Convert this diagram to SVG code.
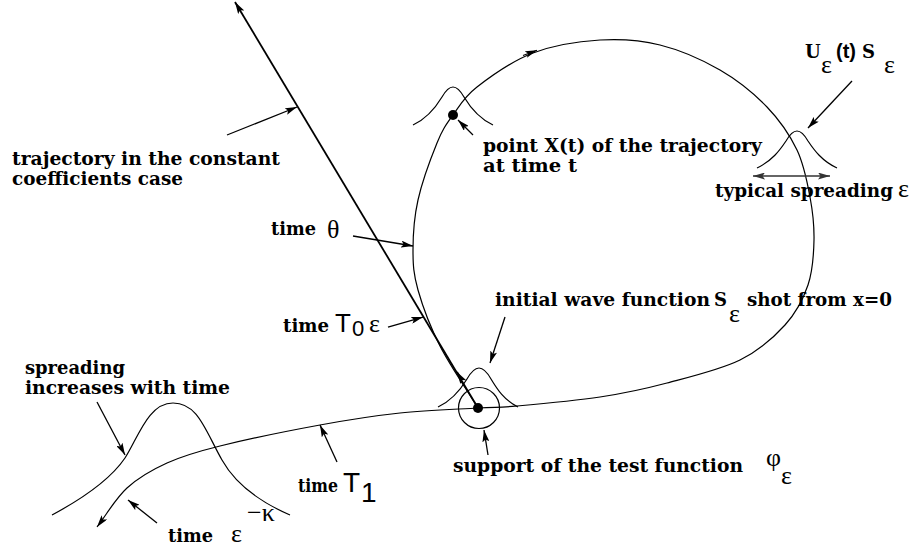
<svg xmlns="http://www.w3.org/2000/svg" width="915" height="552" viewBox="0 0 915 552">
<defs>
<style>
.b{font-family:"DejaVu Serif","Liberation Serif",serif;font-weight:bold;font-size:18px;fill:#000}
.g{font-family:"Liberation Serif","DejaVu Serif",serif;font-size:26px;fill:#000}
.sn{font-family:"Liberation Sans","DejaVu Sans",sans-serif;fill:#000}
.ln{fill:none;stroke:#000;stroke-width:1.2}
.ptr{fill:none;stroke:#000;stroke-width:1.3;marker-end:url(#ah)}
</style>
<marker id="ah" viewBox="0 0 12 7" refX="12" refY="3.5" markerWidth="12" markerHeight="7" markerUnits="userSpaceOnUse" orient="auto">
<path d="M0,0 L12,3.5 L0,7 L2.5,3.5 z" fill="#000"/>
</marker>
<marker id="ahs" viewBox="0 0 12 7" refX="0" refY="3.5" markerWidth="12" markerHeight="7" markerUnits="userSpaceOnUse" orient="auto">
<path d="M12,0 L0,3.5 L12,7 L9.5,3.5 z" fill="#333"/>
</marker>
<marker id="ahg" viewBox="0 0 12 7" refX="12" refY="3.5" markerWidth="12" markerHeight="7" markerUnits="userSpaceOnUse" orient="auto">
<path d="M0,0 L12,3.5 L0,7 L2.5,3.5 z" fill="#333"/>
</marker>
</defs>
<rect width="915" height="552" fill="#fff"/>

<g id="connectors">
<path d="M478,408 L235,2" fill="none" stroke="#000" stroke-width="1.8" marker-end="url(#ah)"/>
<path d="M462,380 L457,372" fill="none" stroke="#000" stroke-width="1.8" marker-end="url(#ah)"/>
<path class="ln" marker-end="url(#ah)" d="M478,408 C465.3,387.3 450,365.7 440,346 C430,326.3 422.5,306 418,290 C413.5,274 413,265 413,250 C413,235 414,217.8 418,200 C422,182.2 431.2,157.2 437,143 C442.8,128.8 446.3,124.3 453,115 C459.7,105.7 463.7,97.3 477,87 C490.3,76.7 512.5,60.8 533,53 C553.5,45.2 578.8,41.3 600,40 C621.2,38.7 640,40 660,45 C680,50 702.2,59.7 720,70 C737.8,80.3 754.2,93.7 767,107 C779.8,120.3 789.8,135 797,150 C804.2,165 807.2,182 810,197 C812.8,212 814.3,225.3 814,240 C813.7,254.7 812.8,270.8 808,285 C803.2,299.2 796.3,312.5 785,325 C773.7,337.5 759.7,350.3 740,360 C720.3,369.7 690.3,376.8 667,383 C643.7,389.2 625,393.2 600,397 C575,400.8 537.3,404.2 517,406 C496.7,407.8 497.5,406.8 478,408 C458.5,409.2 426.3,410.2 400,413 C373.7,415.8 350,419.5 320,425 C290,430.5 245.5,439.7 220,446 C194.5,452.3 182.5,456 167,463 C151.5,470 138.7,477.3 127,488 C115.3,498.7 107,514 97,527"/>
<path class="ln" d="M523,55.5 L537,50.3" marker-end="url(#ah)"/>
<path class="ptr" d="M227,135 L297,107"/>
<path class="ptr" d="M353,236 L413,246"/>
<path class="ptr" d="M388,327 L423,317"/>
<path class="ptr" d="M505,317 L490,363"/>
<path class="ptr" d="M473,135 L458,120"/>
<path class="ptr" d="M852,81 L808,128"/>
<path class="ptr" d="M488,455 L484,430"/>
<path class="ptr" d="M97,402 L125,455"/>
<path class="ptr" d="M337,462 L320,425"/>
<path class="ptr" d="M157,523 L128,500"/>
<path d="M753,176 L830,176" fill="none" stroke="#333" stroke-width="1.5" marker-start="url(#ahs)" marker-end="url(#ahg)"/>
</g>

<g id="bell-xt">
<path class="ln" d="M413,125 C428,118 436,107 442,97 C446,90 449,87 453,87 C457,87 460,90 464,97 C470,107 478,118 493,125"/>
<circle cx="453" cy="115" r="5" fill="#000"/>
</g>
<g id="bell-right">
<path class="ln" d="M757,168 C772,161 780,150 786,141 C790,134 793,131 797,131 C801,131 804,134 808,141 C814,150 822,161 837,168"/>
</g>
<g id="bell-origin">
<path class="ln" d="M438,407 C453,400 461,389 467,379 C471,372 475,368 479,368 C483,368 487,372 491,379 C497,389 504,400 518,407"/>
<circle cx="479" cy="408" r="20.5" fill="none" stroke="#000" stroke-width="1.2"/>
<circle cx="478" cy="408" r="5" fill="#000"/>
</g>
<g id="bell-left">
<path class="ln" d="M52,515 C80,500 110,480 125,458 C138,438 148,403 173,403 C198,403 205,430 222,460 C236,485 260,502 290,515"/>
</g>

<g id="label-const">
<text class="b" x="12" y="165" textLength="268" lengthAdjust="spacingAndGlyphs">trajectory in the constant</text>
<text class="b" x="12" y="185" textLength="171" lengthAdjust="spacingAndGlyphs">coefficients case</text>
</g>
<g id="label-theta">
<text class="b" x="271" y="235" textLength="45" lengthAdjust="spacingAndGlyphs">time</text>
<text class="g" x="327" y="238">θ</text>
</g>
<g id="label-t0">
<text class="b" x="283" y="332" textLength="46" lengthAdjust="spacingAndGlyphs">time</text>
<text class="sn" x="335" y="332" font-size="26">T</text>
<text class="sn" x="352" y="336" font-size="22">0</text>
<text class="g" x="369" y="332">ε</text>
</g>
<g id="label-initial">
<text class="b" x="495" y="306" textLength="215" lengthAdjust="spacingAndGlyphs">initial wave function</text>
<text class="b" x="714" y="306">S</text>
<text class="g" x="729" y="322">ε</text>
<text class="b" x="747" y="306" textLength="145" lengthAdjust="spacingAndGlyphs">shot from x=0</text>
</g>
<g id="label-point">
<text class="b" x="483" y="152" textLength="279" lengthAdjust="spacingAndGlyphs">point X(t) of the trajectory</text>
<text class="b" x="483" y="172" textLength="94" lengthAdjust="spacingAndGlyphs">at time t</text>
</g>
<g id="label-u">
<text class="b" x="805" y="58">U</text>
<text class="g" x="821" y="73">ε</text>
<text class="sn" x="836" y="58" font-size="20" font-weight="bold">(t)</text>
<text class="b" x="862" y="58">S</text>
<text class="g" x="884" y="73">ε</text>
</g>
<g id="label-typical">
<text class="b" x="715" y="197" textLength="178" lengthAdjust="spacingAndGlyphs">typical spreading</text>
<text class="g" x="898" y="197">ε</text>
</g>
<g id="label-support">
<text class="b" x="453" y="472" textLength="290" lengthAdjust="spacingAndGlyphs">support of the test function</text>
<text class="g" x="766" y="466">φ</text>
<text class="g" x="781" y="484">ε</text>
</g>
<g id="label-spreading">
<text class="b" x="25" y="374" textLength="100" lengthAdjust="spacingAndGlyphs">spreading</text>
<text class="b" x="25" y="394" textLength="205" lengthAdjust="spacingAndGlyphs">increases with time</text>
</g>
<g id="label-t1">
<text class="b" x="298" y="492" textLength="40" lengthAdjust="spacingAndGlyphs">time</text>
<text class="sn" x="343" y="492" font-size="28">T</text>
<text class="sn" x="361" y="502" font-size="28">1</text>
</g>
<g id="label-kappa">
<text class="b" x="168" y="542" textLength="45" lengthAdjust="spacingAndGlyphs">time</text>
<text class="g" x="231" y="542">ε</text>
<text class="g" x="247" y="521" font-size="17">−κ</text>
</g>
</svg>
